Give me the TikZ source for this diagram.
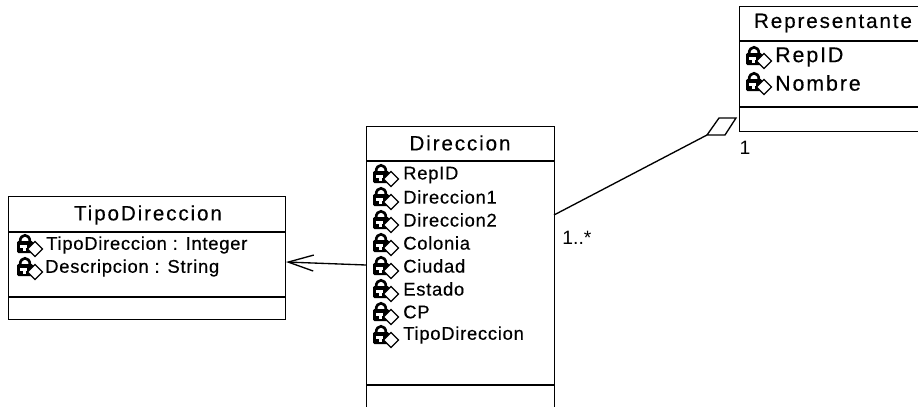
\documentclass[tikz,border=0pt]{standalone}
\usepackage{fontspec}
\setmainfont{Liberation Sans}
\newfontfamily\attrfont[LetterSpace=4,FakeBold=0.4]{Liberation Sans}
\newfontfamily\titlefont[LetterSpace=9,FakeBold=0.3]{Liberation Sans}
\usetikzlibrary{arrows.meta,calc,positioning}
\def\px{0.75pt}
\tikzset{
  classbox/.style={draw=black,line width=1pt,fill=white,inner sep=0pt,anchor=north west},
  classtitle/.style={inner sep=0pt,font=\titlefont\fontsize{15.5}{17}\selectfont},
  attr/.style={inner sep=0pt,anchor=west,font=\attrfont\fontsize{13.8}{15}\selectfont},
  bigattr/.style={attr,font=\titlefont\fontsize{16}{18}\selectfont},
  mult/.style={inner sep=0pt,font=\fontsize{14.5}{16}\selectfont},
  keyicon/.pic={
    \draw[line width=2pt] (-5,-3) .. controls (-5,-12) and (5,-12) .. (5,-3);
    \fill[black,rounded corners=1pt] (-8,-4) rectangle (8,8);
    \fill[white] (-5,0) rectangle (2,2.5);
    \fill[white] (-2,0) rectangle (0.5,6);
    \filldraw[fill=white,draw=black,line width=1pt] (2.5,4) -- (10,-3.5) -- (17.5,4) -- (10,11.5) -- cycle;
  }
}
\begin{document}
\begin{tikzpicture}[x=\px,y=-\px]
      \path[use as bounding box,clip] (0,0) rectangle (918,407);
      % Draw the boxes
      \node[classbox,minimum width=277*\px,minimum height=123*\px] (tipoBox) at (8,196) {};
      \node[classbox,minimum width=188*\px,minimum height=300*\px] (dirBox) at (366,126) {};
      \node[classbox,minimum width=200*\px,minimum height=125*\px] (repBox) at (739,6) {};
      % Compartments
      \draw[line width=1pt] (8,232) -- (285,232);
      \draw[line width=1pt] (8,297) -- (285,297);
      \draw[line width=1pt] (366,161) -- (554,161);
      \draw[line width=1pt] (366,385) -- (554,385);
      \draw[line width=1pt] (739,41) -- (930,41);
      \draw[line width=1pt] (739,107) -- (930,107);
      % Titles
      \node[classtitle] (tipoTitle) at (148,215) {TipoDireccion};
      \node[classtitle] (dirTitle) at (460,143) {Direccion};
      \node[classtitle] (repTitle) at (833,23) {Representante};
      % Attributes
      \node[attr] (tipoA) at (46,245) {TipoDireccion : Integer};
      \node[attr] (tipoB) at (45,268) {Descripcion : String};
      \pic at (25,245) {keyicon};
      \pic at (25,268) {keyicon};
      \node[attr] (dirA) at (403,175) {RepID};
      \node[attr] (dirB) at (403,197) {Direccion1};
      \node[attr] (dirC) at (403,220) {Direccion2};
      \node[attr] (dirD) at (403,243) {Colonia};
      \node[attr] (dirE) at (403,266) {Ciudad};
      \node[attr] (dirF) at (403,289) {Estado};
      \node[attr] (dirG) at (403,312) {CP};
      \node[attr] (dirH) at (403,335) {TipoDireccion};
      \pic at (381,175) {keyicon};
      \pic at (381,198) {keyicon};
      \pic at (381,221) {keyicon};
      \pic at (381,244) {keyicon};
      \pic at (381,267) {keyicon};
      \pic at (381,290) {keyicon};
      \pic at (381,313) {keyicon};
      \pic at (381,336) {keyicon};
      \node[bigattr] (repA) at (775,57) {RepID};
      \node[bigattr] (repB) at (775,83) {Nombre};
      \pic at (754,57) {keyicon};
      \pic at (754,83) {keyicon};
      % Connectors
      \coordinate (dirOut) at (554,215);
      \coordinate (dirIn) at (366,265);
      \coordinate (tipoIn) at (286,262);
      \coordinate (aggA) at (707,135);
      \coordinate (aggB) at (719,118);
      \coordinate (aggC) at (736,118);
      \coordinate (aggD) at (725,135);
      \draw[line width=1pt] (dirOut) -- (aggA);
      \filldraw[fill=white,draw=black,line width=1pt] (aggA) -- (aggB) -- (aggC) -- (aggD) -- cycle;
      \draw[line width=1pt,-{Straight Barb[length=19pt,width=12pt]}] (dirIn) -- (tipoIn);
      % Multiplicity
      \node[mult] (multOne) at (745,148) {1};
      \node[mult] (multMany) at (577,238) {1..*};
    \end{tikzpicture}
\end{document}
